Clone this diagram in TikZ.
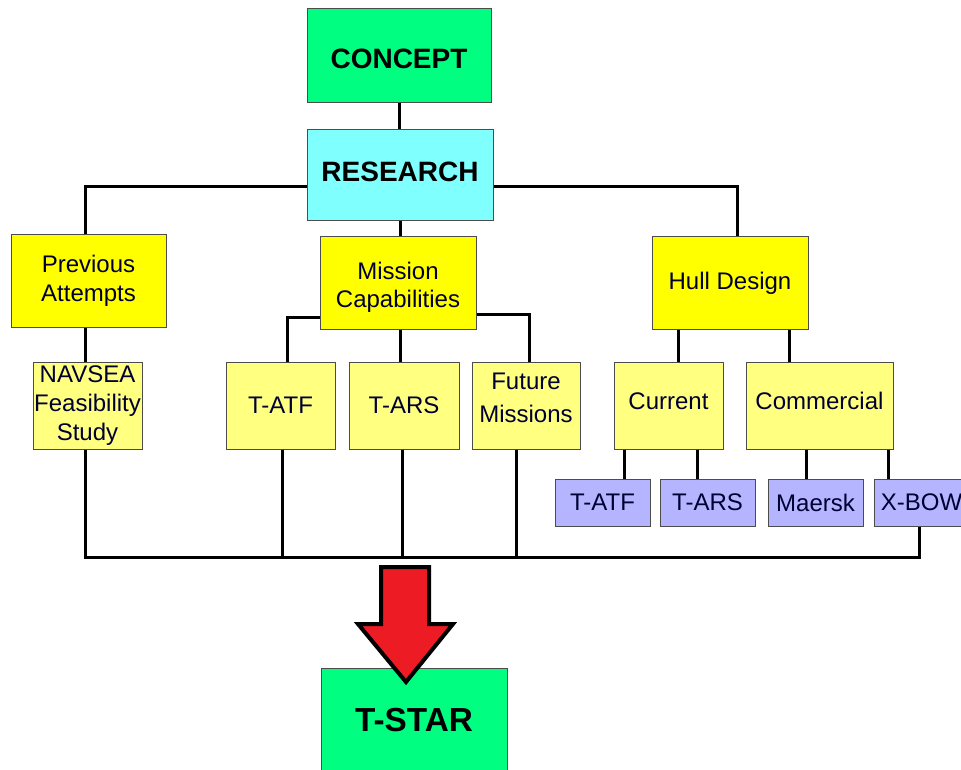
\documentclass[tikz,border=0pt]{standalone}
\usepackage{fontspec}
\setmainfont{Liberation Sans}
\usetikzlibrary{calc}
\definecolor{leadgreen}{RGB}{0,255,128}
\definecolor{leadcyan}{RGB}{128,255,255}
\definecolor{topyellow}{RGB}{255,255,0}
\definecolor{subyellow}{RGB}{255,255,128}
\definecolor{leafblue}{RGB}{180,180,255}
\definecolor{arrowred}{RGB}{237,28,36}
\definecolor{navytext}{RGB}{0,0,51}
\begin{document}
\begin{tikzpicture}[x=0.75pt,y=-0.75pt,
  box/.style={draw=black!70, line width=0.75pt, inner sep=0pt, align=center,
    text=navytext, font=\fontsize{18}{21.5}\selectfont},
  wh/.style 2 args={minimum width=#1*0.75pt, minimum height=#2*0.75pt},
  lead/.style={box, text=black, font=\bfseries\fontsize{21}{25}\selectfont},
  link/.style={line width=2.25pt, draw=black}]
\useasboundingbox (0,0) rectangle (961,770);
\clip (0,0) rectangle (961,770);

% top of the tree
\node[lead, fill=leadgreen, wh={184}{94}, text height=19.5pt] (concept) at (399,56) {CONCEPT};
\node[lead, fill=leadcyan, wh={186}{91}, text depth=6pt] (research) at (400,175.5) {RESEARCH};

% research branches
\node[box, fill=topyellow, wh={155}{92}] (prev) at (88.5,281) {Previous\\Attempts};
\node[box, fill=topyellow, wh={156}{92}] (mission) at (398,283) {\rule{0pt}{19.7pt}Mission\\Capabilities};
\node[box, fill=topyellow, wh={156}{92}] (hull) at (730,283) {Hull Design};

% second level
\node[box, fill=subyellow, wh={109}{87}] (navsea) at (87.5,405.5) {NAVSEA\\Feasibility\\Study};
\node[box, fill=subyellow, wh={109}{87}] (tatf) at (280.5,405.5) {T-ATF};
\node[box, fill=subyellow, wh={110}{87}] (tars) at (404,405.5) {T-ARS};
\node[box, fill=subyellow, wh={108}{87}, text depth=12pt] (future) at (526,405.5) {Future\\[3pt]Missions};
\node[box, fill=subyellow, wh={109}{87}, text depth=6.8pt] (current) at (668.5,405.5) {Current};
\node[box, fill=subyellow, wh={147}{87}, text depth=6.8pt] (commercial) at (819.5,405.5) {Commercial};

% hull design examples
\node[box, fill=leafblue, wh={95}{47}] (hatf) at (602.5,502.5) {T-ATF};
\node[box, fill=leafblue, wh={95}{47}] (hars) at (707.5,502.5) {T-ARS};
\node[box, fill=leafblue, wh={95}{47}] (maersk) at (815.5,502.5) {Maersk};
\node[box, fill=leafblue, wh={95}{47}] (xbow) at (921.5,502.5) {X-BOW};

% result
\node[lead, fill=leadgreen, wh={186}{104}, font=\bfseries\fontsize{25}{30}\selectfont] (tstar) at (414,720) {T-STAR};

% tree connectors
\draw[link] (concept.south) -- (concept.south |- research.north);
\draw[link] ($(research.west)+(0,11.5)$) -| ($(prev.north)+(-3,0)$);
\draw[link] ($(research.east)+(0,11.5)$) -| ($(hull.north)+(7,0)$);
\draw[link] (research.south) -- (research.south |- mission.north);
\draw[link] ($(prev.south)+(-3,0)$) -- ($(navsea.north)+(-2,0)$);
\draw[link] ($(mission.west)+(0,34)$) -| ($(tatf.north)+(7,0)$);
\draw[link] ($(mission.south)+(2,0)$) -- ($(tars.north)+(-4,0)$);
\draw[link] ($(mission.east)+(0,31)$) -| ($(future.north)+(3,0)$);
\draw[link] ($(hull.south)+(-52,0)$) -- ($(current.north)+(9.5,0)$);
\draw[link] ($(hull.south)+(59,0)$) -- ($(commercial.north)+(-30.5,0)$);
\draw[link] ($(current.south)+(-44.5,0)$) -- ($(hatf.north)+(21.5,0)$);
\draw[link] ($(current.south)+(28.5,0)$) -- ($(hars.north)+(-10.5,0)$);
\draw[link] ($(commercial.south)+(-13.5,0)$) -- ($(maersk.north)+(-9.5,0)$);
\draw[link] ($(commercial.south)+(68.5,0)$) -- ($(xbow.north)+(-33.5,0)$);

% collecting bus into the result
\coordinate (bus) at (500,557);
\draw[link] ($(navsea.south)+(-2,0)$) |- ($(xbow.south)+(-2.5,31)$) -- ($(xbow.south)+(-2.5,0)$);
\coordinate (d1) at ($(tatf.south)+(1.5,0)$);
\coordinate (d2) at ($(tars.south)+(-2,0)$);
\coordinate (d3) at ($(future.south)+(-10,0)$);
\draw[link] (d1) -- (d1 |- bus);
\draw[link] (d2) -- (d2 |- bus);
\draw[link] (d3) -- (d3 |- bus);

% block arrow onto the result
\draw[line width=3pt, fill=arrowred, line join=miter]
  (381,567) -- (429,567) -- (429,624) -- (453,624) -- (406,682)
  -- (358,624) -- (381,624) -- cycle;
\end{tikzpicture}
\end{document}
